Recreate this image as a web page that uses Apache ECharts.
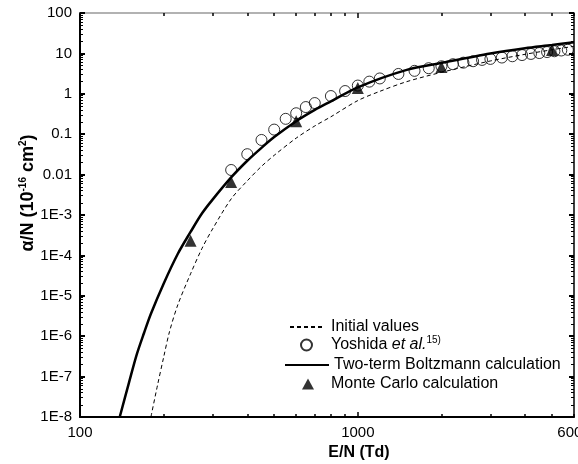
<!DOCTYPE html>
<html>
<head>
<meta charset="utf-8">
<script src="https://cdn.jsdelivr.net/npm/echarts@6/dist/echarts.min.js"></script>
<style>
  html, body { margin: 0; padding: 0; background: #fff; }
  #main { width: 578px; height: 464px; }
</style>
</head>
<body>
<div id="main"></div>
<script>
var chartDom = document.getElementById('main');
var myChart = echarts.init(chartDom);
var option;

// Initial values (dashed)
const initialE = [180, 190, 200, 210, 225, 250, 275, 300, 350, 400, 450, 500, 600, 700, 800, 1000, 1200, 1500, 2000, 3000, 4000, 5000, 6000];
const initialAlpha = [1e-8, 6e-8, 3e-7, 1.3e-6, 6e-6, 3.5e-5, 1.5e-4, 4.5e-4, 2.5e-3, 7e-3, 0.016, 0.03, 0.08, 0.16, 0.27, 0.68, 1.15, 2.0, 3.4, 6.5, 9.5, 12.3, 15];

// Yoshida et al. (open circles)
const yoshidaE = [350, 400, 450, 500, 550, 600, 650, 700, 800, 900, 1000, 1100, 1200, 1400, 1600, 1800, 2000, 2200, 2400, 2600, 2800, 3000, 3300, 3600, 3900, 4200, 4500, 4800, 5100, 5400, 5700];
const yoshidaAlpha = [0.013, 0.032, 0.072, 0.13, 0.24, 0.33, 0.47, 0.59, 0.88, 1.17, 1.6, 2.0, 2.4, 3.1, 3.7, 4.3, 4.8, 5.4, 5.9, 6.4, 6.9, 7.3, 7.9, 8.5, 9.1, 9.7, 10.2, 10.8, 11.3, 11.8, 12.3];

// Two-term Boltzmann calculation (solid)
const boltzE = [139, 150, 160, 170, 180, 200, 225, 250, 275, 300, 350, 400, 450, 500, 600, 700, 800, 1000, 1500, 2000, 3000, 4000, 5000, 6000];
const boltzAlpha = [1e-8, 7e-8, 3.5e-7, 1.2e-6, 3.6e-6, 2.0e-5, 1.1e-4, 3.8e-4, 1.1e-3, 2.4e-3, 8.5e-3, 0.022, 0.046, 0.085, 0.21, 0.40, 0.65, 1.45, 3.9, 5.8, 9.9, 13.4, 16.1, 19];

// Monte Carlo calculation (triangles)
const mcE = [250, 350, 600, 1000, 2000, 5000];
const mcAlpha = [2.3e-4, 6.6e-3, 0.21, 1.4, 4.6, 12.1];

const xTickValues = [100, 1000, 6000];
const xTickLabels = ['100', '1000', '6000'];
const yTickLabels = ['1E-8', '1E-7', '1E-6', '1E-5', '1E-4', '1E-3', '0.01', '0.1', '1', '10', '100'];

const xMin = 100, xMax = 6000, yMin = 1e-8, yMax = 100;
const FONT = 'Liberation Sans, Arial, sans-serif';

function pairs(xs, ys) {
    return xs.map(function (x, i) { return [x, ys[i]]; });
}

// minor tick positions for the log axes
function minorTicks(lo, hi) {
    const out = [];
    for (let d = lo; d < hi; d *= 10) {
        for (let k = 2; k <= 9; k++) {
            const v = d * k;
            if (v > lo && v < hi * 1.0001) out.push(v);
        }
    }
    return out;
}
const xMinor = minorTicks(100, 6000).filter(function (v) { return v <= 6000; });
const yMinor = minorTicks(1e-8, 100);
const yMajor = yTickLabels.map(function (_, i) { return Math.pow(10, i - 8); });

function xAxisBase(pos) {
    return {
        type: 'log', logBase: 10, min: xMin, max: xMax, position: pos,
        splitLine: { show: false }, axisPointer: { show: false }
    };
}
function yAxisBase(pos) {
    return {
        type: 'log', logBase: 10, min: yMin, max: yMax, position: pos,
        splitLine: { show: false }, axisPointer: { show: false }
    };
}

const bottomMajor = Object.assign(xAxisBase('bottom'), {
    axisLine: { lineStyle: { color: '#000', width: 2 } },
    axisTick: { inside: true, length: 5, customValues: [100, 1000], lineStyle: { color: '#000', width: 1.5 } },
    axisLabel: {
        customValues: xTickValues, color: '#000', fontSize: 15, fontFamily: FONT, margin: 8,
        formatter: function (v) {
            const i = xTickValues.findIndex(function (t) { return Math.abs(t - v) / t < 1e-6; });
            return i >= 0 ? xTickLabels[i] : '';
        }
    },
    name: 'E/N (Td)', nameLocation: 'middle', nameGap: 28,
    nameTextStyle: { color: '#000', fontSize: 16, fontWeight: 'bold', fontFamily: FONT, padding: [0, 0, 0, 64] }
});
const bottomMinor = Object.assign(xAxisBase('bottom'), {
    axisLine: { show: false },
    axisTick: { inside: true, length: 3, customValues: xMinor, lineStyle: { color: '#000', width: 1.5 } },
    axisLabel: { show: false }
});
const topMajor = Object.assign(xAxisBase('top'), {
    axisLine: { lineStyle: { color: '#999', width: 1.5 } },
    axisTick: { inside: true, length: 5, customValues: [100, 1000], lineStyle: { color: '#000', width: 1.5 } },
    axisLabel: { show: false }
});
const topMinor = Object.assign(xAxisBase('top'), {
    axisLine: { show: false },
    axisTick: { inside: true, length: 3, customValues: xMinor, lineStyle: { color: '#000', width: 1.5 } },
    axisLabel: { show: false }
});

const leftMajor = Object.assign(yAxisBase('left'), {
    axisLine: { lineStyle: { color: '#000', width: 2 } },
    axisTick: { inside: true, length: 5, customValues: yMajor, lineStyle: { color: '#000', width: 2 } },
    axisLabel: {
        customValues: yMajor, color: '#000', fontSize: 15, fontFamily: FONT, margin: 8,
        formatter: function (v) {
            return yTickLabels[Math.round(Math.log10(v)) + 8];
        }
    },
    name: '{t|α/N (10}{s|-16}{t| cm}{s|2}{t|)}', nameLocation: 'middle', nameRotate: 90, nameGap: 42,
    nameMoveOverlap: false,
    nameTextStyle: {
        padding: [0, 0, 0, 44],
        rich: {
            t: { color: '#000', fontSize: 18, fontWeight: 'bold', fontFamily: FONT },
            s: { color: '#000', fontSize: 10, fontWeight: 'bold', fontFamily: FONT, padding: [0, 0, 10, 0] }
        }
    }
});
const leftMinor = Object.assign(yAxisBase('left'), {
    axisLine: { show: false },
    axisTick: { inside: true, length: 3, customValues: yMinor, lineStyle: { color: '#000', width: 1 } },
    axisLabel: { show: false }
});
const rightMajor = Object.assign(yAxisBase('right'), {
    axisLine: { lineStyle: { color: '#000', width: 1.5 } },
    axisTick: { inside: true, length: 5, customValues: yMajor, lineStyle: { color: '#000', width: 2 } },
    axisLabel: { show: false }
});
const rightMinor = Object.assign(yAxisBase('right'), {
    axisLine: { show: false },
    axisTick: { inside: true, length: 3, customValues: yMinor, lineStyle: { color: '#000', width: 1 } },
    axisLabel: { show: false }
});

const hideSymbol = { color: 'rgba(0,0,0,0)', borderColor: 'rgba(0,0,0,0)', borderWidth: 0, opacity: 0 };
const legendText = {
    color: '#000', fontSize: 16, fontFamily: FONT,
    rich: {
        n: { color: '#000', fontSize: 16, fontFamily: FONT },
        i: { color: '#000', fontSize: 16, fontFamily: FONT, fontStyle: 'italic' },
        s: { color: '#000', fontSize: 10, fontFamily: FONT, padding: [0, 0, 10, 0] }
    }
};

// one legend block per entry so each icon can have its own width
function legendEntry(item, left, top, width, textPad) {
    return {
        orient: 'vertical', left: left, top: top, padding: 0,
        itemWidth: width, itemHeight: 11,
        textStyle: Object.assign({}, legendText, { padding: [0, 0, 0, textPad] }),
        formatter: function (name) {
            if (name === 'Yoshida') return '{n|Yoshida }{i|et al.}{s|15)}';
            return name;
        },
        data: [item]
    };
}

option = {
    animation: false,
    backgroundColor: '#fff',
    grid: { left: 80, right: 4, top: 13, bottom: 47, outerBoundsMode: 'none' },
    legend: [
        legendEntry({ name: 'Initial values', itemStyle: hideSymbol }, 289, 319, 32, 4),
        legendEntry({ name: 'Yoshida' }, 300, 335, 11, 14),
        legendEntry({ name: 'Two-term Boltzmann calculation', itemStyle: hideSymbol }, 284, 357, 44, 0),
        legendEntry({ name: 'Monte Carlo calculation', icon: 'triangle' }, 302, 376, 12, 12)
    ],
    xAxis: [bottomMajor, bottomMinor, topMajor, topMinor],
    yAxis: [leftMajor, leftMinor, rightMajor, rightMinor],
    series: [
        {
            name: 'Initial values',
            type: 'line',
            data: pairs(initialE, initialAlpha),
            smooth: 0.3,
            showSymbol: false,
            symbol: 'none',
            lineStyle: { color: '#000', width: 1, type: [4, 3] },
            itemStyle: { color: '#000' },
            clip: true
        },
        {
            name: 'Yoshida',
            type: 'scatter',
            data: pairs(yoshidaE, yoshidaAlpha),
            symbol: 'circle',
            symbolSize: 11,
            itemStyle: { color: 'rgba(255,255,255,0)', borderColor: '#000', borderWidth: 1 },
            clip: true
        },
        {
            name: 'Two-term Boltzmann calculation',
            type: 'line',
            data: pairs(boltzE, boltzAlpha),
            smooth: 0.3,
            showSymbol: false,
            symbol: 'none',
            lineStyle: { color: '#000', width: 2.5 },
            itemStyle: { color: '#000' },
            clip: true
        },
        {
            name: 'Monte Carlo calculation',
            type: 'scatter',
            data: pairs(mcE, mcAlpha),
            symbol: 'triangle',
            symbolSize: 12,
            itemStyle: { color: '#000' },
            clip: true
        }
    ]
};

option && myChart.setOption(option);
</script>
</body>
</html>
